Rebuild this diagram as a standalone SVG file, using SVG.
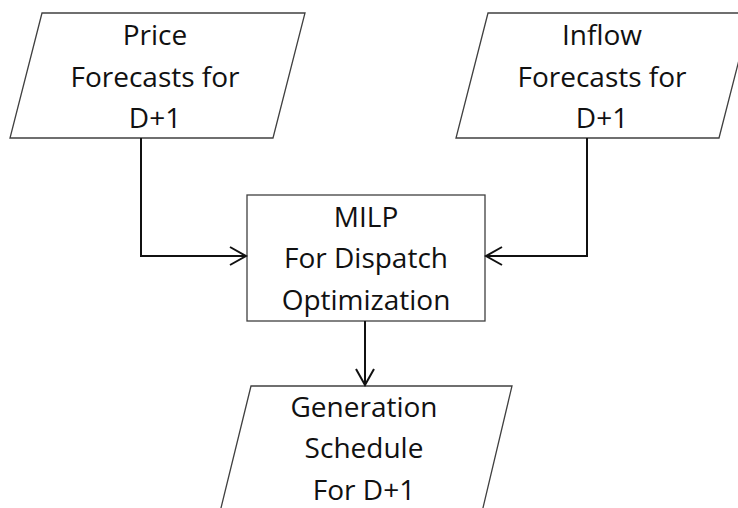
<svg xmlns="http://www.w3.org/2000/svg" width="738" height="508" viewBox="0 0 738 508">
<defs>
<style>
.shape{fill:#ffffff;stroke:#404040;stroke-width:1.3}
.lbl{font-family:"Open Sans","Liberation Sans",sans-serif;font-size:28px;fill:#111111;text-anchor:middle}
.conn{fill:none;stroke:#111111;stroke-width:2}
</style>
<marker id="arr" viewBox="0 0 20 20" refX="18" refY="10" markerWidth="20" markerHeight="20" markerUnits="userSpaceOnUse" orient="auto">
<path d="M2,1 L18,10 L2,19" fill="none" stroke="#111111" stroke-width="2"/>
</marker>
</defs>
<rect width="738" height="508" fill="#ffffff"/>
<g id="price">
<polygon class="shape" points="42,13 305,13 273,138 10,138"/>
<text class="lbl" x="155" y="45">Price</text>
<text class="lbl" x="155" y="87">Forecasts for</text>
<text class="lbl" x="155" y="128">D+1</text>
</g>
<g id="inflow">
<polygon class="shape" points="488,13 751,13 719,138 456,138"/>
<text class="lbl" x="602" y="45">Inflow</text>
<text class="lbl" x="602" y="87">Forecasts for</text>
<text class="lbl" x="602" y="128">D+1</text>
</g>
<g id="milp">
<rect class="shape" x="247" y="195" width="238" height="126"/>
<text class="lbl" x="366" y="227">MILP</text>
<text class="lbl" x="366" y="268">For Dispatch</text>
<text class="lbl" x="366" y="310">Optimization</text>
</g>
<g id="schedule">
<polygon class="shape" points="251,386 512,386 482,512 220,512"/>
<text class="lbl" x="364" y="417">Generation</text>
<text class="lbl" x="364" y="458">Schedule</text>
<text class="lbl" x="364" y="500">For D+1</text>
</g>
<g id="connectors">
<path class="conn" d="M141,138 V256 H246" marker-end="url(#arr)"/>
<path class="conn" d="M587,138 V256 H486" marker-end="url(#arr)"/>
<path class="conn" d="M365,321 V385" marker-end="url(#arr)"/>
</g>
</svg>
